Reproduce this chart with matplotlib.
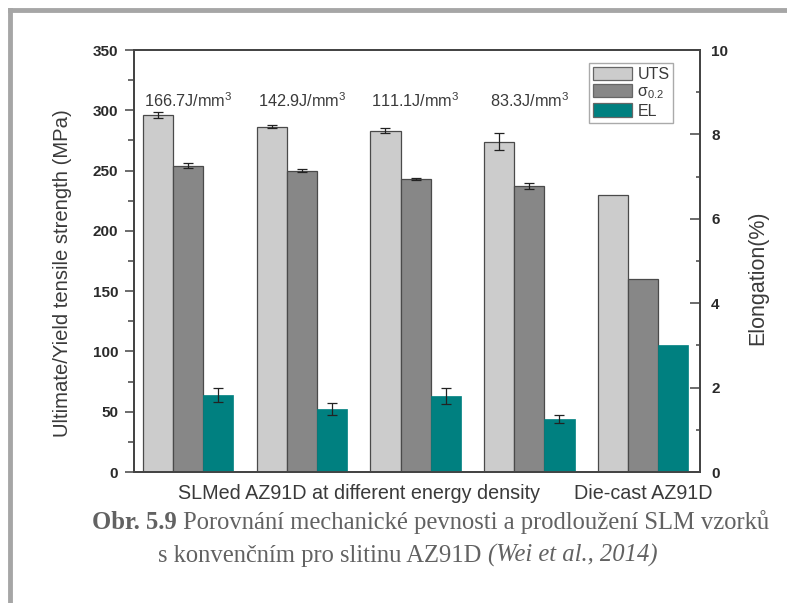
import matplotlib
matplotlib.use("Agg")
import matplotlib.pyplot as plt
import numpy as np
from matplotlib.lines import Line2D
from matplotlib.patches import Patch
from matplotlib.ticker import MultipleLocator

plt.rcParams["font.family"] = ["Liberation Sans", "DejaVu Sans"]
plt.rcParams["mathtext.fontset"] = "custom"
plt.rcParams["mathtext.rm"] = "Liberation Sans"
plt.rcParams["mathtext.it"] = "Liberation Sans"

# data
energy_labels = ["166.7J/mm$^3$", "142.9J/mm$^3$", "111.1J/mm$^3$", "83.3J/mm$^3$"]
uts = [296, 286.5, 283, 274, 230]
uts_err = [2.5, 1.5, 2, 7, 0]
yield_strength = [254, 250, 243, 237, 160]
yield_err = [2, 1.5, 0.6, 2.5, 0]
elongation = [1.82, 1.49, 1.80, 1.25, 3.0]
elongation_err = [0.17, 0.15, 0.2, 0.09, 0]
group_labels = ["SLMed AZ91D at different energy density", "Die-cast AZ91D"]
group_label_pos = [1.5, 4]

UTS_COLOR = "#cccccc"
YS_COLOR = "#878787"
EL_COLOR = "#008080"
EDGE = "#4a4a4a"
TEXT = "#2a2a2a"
BAR_W = 0.265

fig = plt.figure(figsize=(7.87, 6.03), dpi=100)
ax = fig.add_axes([134 / 787, 131 / 603, 566 / 787, 422 / 603])
ax2 = ax.twinx()

x = np.arange(len(uts))
err_kw = dict(ecolor="#222222", elinewidth=0.9, capsize=3.5, capthick=0.9)
ax.bar(x - BAR_W, uts, BAR_W, color=UTS_COLOR, edgecolor=EDGE, linewidth=0.9,
       yerr=[e if e else np.nan for e in uts_err], error_kw=err_kw)
ax.bar(x, yield_strength, BAR_W, color=YS_COLOR, edgecolor=EDGE, linewidth=0.9,
       yerr=[e if e else np.nan for e in yield_err], error_kw=err_kw)
ax2.bar(x + BAR_W, elongation, BAR_W, color=EL_COLOR, edgecolor=EL_COLOR, linewidth=0.5,
        yerr=[e if e else np.nan for e in elongation_err], error_kw=err_kw)

ax.set_xlim(-0.475, 4.5)
ax.set_ylim(0, 350)
ax2.set_ylim(0, 10)
ax.set_xticks([])

ax.yaxis.set_major_locator(MultipleLocator(50))
ax.yaxis.set_minor_locator(MultipleLocator(25))
ax2.yaxis.set_major_locator(MultipleLocator(2))
ax2.yaxis.set_minor_locator(MultipleLocator(1))

ax.tick_params(axis="y", which="major", direction="out", length=6.5, width=1.1,
               color="#444444", pad=5, labelsize=11, labelcolor=TEXT)
ax.tick_params(axis="y", which="minor", direction="out", length=4, width=1.1,
               color="#444444")
ax2.tick_params(axis="y", which="major", direction="in", length=7, width=1.1,
                color="#444444", pad=8, labelsize=11, labelcolor=TEXT)
ax2.tick_params(axis="y", which="minor", direction="in", length=3, width=1.1,
                color="#444444")
for lab in ax.get_yticklabels() + ax2.get_yticklabels():
    lab.set_fontweight("bold")

for a in (ax, ax2):
    for sp in a.spines.values():
        sp.set_color("#444444")
        sp.set_linewidth(1.3)

ax.set_ylabel("Ultimate/Yield tensile strength (MPa)", fontsize=14.6, color="#3a3a3a")
ax.yaxis.set_label_coords(-0.11, 0.472)
ax2.set_ylabel("Elongation(%)", fontsize=15.5, color="#3a3a3a")
ax2.yaxis.set_label_coords(1.083, 0.46)

for xi, lab in zip(x, energy_labels):
    ax.text(xi, 308, lab, ha="center", va="center", fontsize=11.7, color="#3a3a3a")

for pos, lab in zip(group_label_pos, group_labels):
    ax.text(pos, -0.052, lab, transform=ax.get_xaxis_transform(), ha="center",
            va="center", fontsize=14.2, color="#3a3a3a")

handles = [
    Patch(facecolor=UTS_COLOR, edgecolor="#666666", linewidth=0.9),
    Patch(facecolor=YS_COLOR, edgecolor="#666666", linewidth=0.9),
    Patch(facecolor=EL_COLOR, edgecolor="#666666", linewidth=0.9),
]
leg = ax2.legend(handles, ["UTS", r"σ$_{0.2}$", "EL"], loc="upper right",
                 bbox_to_anchor=(0.953, 0.97), borderaxespad=0, fancybox=False,
                 handlelength=2.45, handleheight=0.9, labelspacing=0.15,
                 borderpad=0.25, handletextpad=0.3, fontsize=11.5,
                 edgecolor="#aaaaaa", framealpha=1)
leg.get_frame().set_linewidth(1.0)
for t in leg.get_texts():
    t.set_color("#3a3a3a")

# gray page frame
frame = "#a6a6a6"
fig.add_artist(Line2D([10 / 787, 1], [1 - 10 / 603, 1 - 10 / 603], color=frame, lw=3.5))
fig.add_artist(Line2D([10 / 787, 10 / 787], [0, 1 - 10 / 603], color=frame, lw=3.5))

# caption
cap_color = "#626262"
serif = ["Liberation Serif", "DejaVu Serif"]
cap_size = 17.7
t1 = fig.text(92 / 787, 1 - 529 / 603, "Obr. 5.9", fontsize=cap_size, family=serif,
              weight="bold", color=cap_color, va="baseline")
ax.annotate(" Porovnání mechanické pevnosti a prodloužení SLM vzorků", xy=(1, 0),
            xycoords=t1, va="bottom", ha="left", fontsize=cap_size, family=serif,
            color=cap_color, annotation_clip=False)
t2 = fig.text(158 / 787, 1 - 562 / 603, "s konvenčním pro slitinu AZ91D ", fontsize=cap_size,
              family=serif, color=cap_color, va="baseline")
ax.annotate("(Wei et al., 2014)", xy=(1, 0), xycoords=t2, va="bottom", ha="left",
            fontsize=cap_size, family=serif, style="italic", color=cap_color,
            annotation_clip=False)

fig.savefig("out.png", dpi=100)
